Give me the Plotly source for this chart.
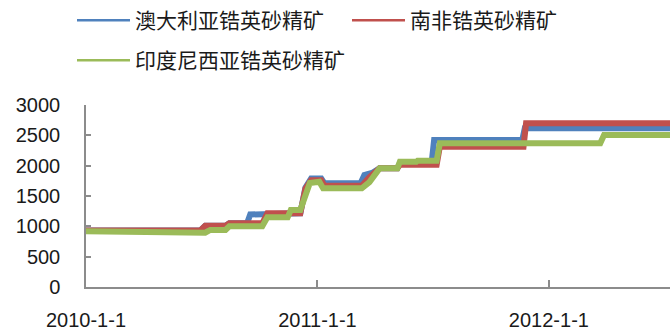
import plotly.graph_objects as go

# ---- data ----
aus_dates = ["2010-01-01", "2010-06-30", "2010-07-08", "2010-08-09", "2010-08-15",
             "2010-09-12", "2010-09-17", "2010-10-06", "2010-10-14", "2010-12-05",
             "2010-12-13", "2010-12-22", "2011-01-07", "2011-01-12", "2011-03-10",
             "2011-03-16", "2011-03-28", "2011-04-09", "2011-05-07", "2011-05-11",
             "2011-06-30", "2011-07-04", "2011-11-20", "2011-11-24", "2012-07-10"]
aus_vals = [930, 930, 1010, 1010, 1050,
            1050, 1195, 1195, 1214, 1214,
            1640, 1790, 1790, 1709, 1709,
            1846, 1880, 1956, 1956, 2040,
            2040, 2423, 2423, 2615, 2615]

saf_dates = ["2010-01-01", "2010-06-30", "2010-07-08", "2010-08-09", "2010-08-15",
             "2010-10-06", "2010-10-14", "2010-12-05", "2010-12-13", "2010-12-22",
             "2011-01-07", "2011-01-12", "2011-03-12", "2011-03-24", "2011-04-09",
             "2011-05-07", "2011-05-11", "2011-07-08", "2011-07-13", "2011-11-22",
             "2011-11-26", "2012-07-10"]
saf_vals = [930, 930, 1010, 1010, 1050,
            1050, 1214, 1214, 1620, 1760,
            1760, 1670, 1670, 1810, 1956,
            1956, 2015, 2015, 2312, 2312,
            2698, 2698]

ind_dates = ["2010-01-01", "2010-01-08", "2010-01-15", "2010-07-08", "2010-07-16",
             "2010-08-09", "2010-08-15", "2010-10-06", "2010-10-14", "2010-11-15",
             "2010-11-20", "2010-12-05", "2010-12-20", "2010-12-28", "2011-01-04",
             "2011-01-10", "2011-03-12", "2011-03-24", "2011-04-09", "2011-05-07",
             "2011-05-11", "2011-06-06", "2011-06-08", "2011-07-08", "2011-07-13",
             "2012-03-22", "2012-03-28", "2012-07-10"]
ind_vals = [918, 918, 895, 895, 940,
            940, 1000, 1000, 1148, 1148,
            1270, 1270, 1714, 1736, 1736,
            1626, 1626, 1730, 1956, 1956,
            2065, 2065, 2082, 2082, 2368,
            2368, 2505, 2505]

names = ["澳大利亚锆英砂精矿", "南非锆英砂精矿", "印度尼西亚锆英砂精矿"]
colors = ["#4F81BD", "#C0504D", "#9BBB59"]
y_ticks = [0, 500, 1000, 1500, 2000, 2500, 3000]
x_ticks = ["2010-01-01", "2011-01-01", "2012-01-01"]
x_tick_text = ["2010-1-1", "2011-1-1", "2012-1-1"]
x_range = ["2010-01-01", "2012-07-10"]

FONT = "Liberation Sans, Arial, Noto Sans CJK SC, sans-serif"

fig = go.Figure()
series = [(aus_dates, aus_vals), (saf_dates, saf_vals), (ind_dates, ind_vals)]
for (d, v), c in zip(series, colors):
    fig.add_trace(go.Scatter(x=d, y=v, mode="lines", line=dict(color=c, width=6),
                             showlegend=False, hoverinfo="skip"))

# legend entries (thin sample lines like the reference)
legend_ids = ["legend", "legend", "legend2"]
for n, c, lg in zip(names, colors, legend_ids):
    fig.add_trace(go.Scatter(x=[None], y=[None], mode="lines", name=n,
                             line=dict(color=c, width=2.5), legend=lg))

axis_col = "#8C8C8C"
fig.update_layout(
    width=670, height=330,
    margin=dict(l=86, r=0, t=105, b=43),
    paper_bgcolor="white", plot_bgcolor="white",
    font=dict(family=FONT, size=20, color="#1a1a1a"),
    xaxis=dict(type="date", range=x_range, tickvals=x_ticks, ticktext=x_tick_text,
               showgrid=False, zeroline=False, showline=True, linecolor=axis_col,
               linewidth=1.5, ticks="inside", ticklen=7, tickcolor=axis_col,
               tickwidth=1.5, ticklabelstandoff=14),
    yaxis=dict(range=[0, 3000], tickvals=y_ticks, showgrid=False, zeroline=False,
               showline=True, linecolor=axis_col, linewidth=1.5, ticks="inside",
               ticklen=5, tickcolor=axis_col, tickwidth=1.5, ticklabelstandoff=20),
    legend=dict(orientation="h", xref="container", yref="container",
                x=72 / 670, y=1 - 0 / 330, xanchor="left", yanchor="top",
                font=dict(size=21), itemwidth=53, entrywidth=207,
                bgcolor="rgba(0,0,0,0)"),
    legend2=dict(orientation="h", xref="container", yref="container",
                 x=72 / 670, y=1 - 40 / 330, xanchor="left", yanchor="top",
                 font=dict(size=21), itemwidth=53,
                 bgcolor="rgba(0,0,0,0)"),
)

fig.write_html("out.html")
